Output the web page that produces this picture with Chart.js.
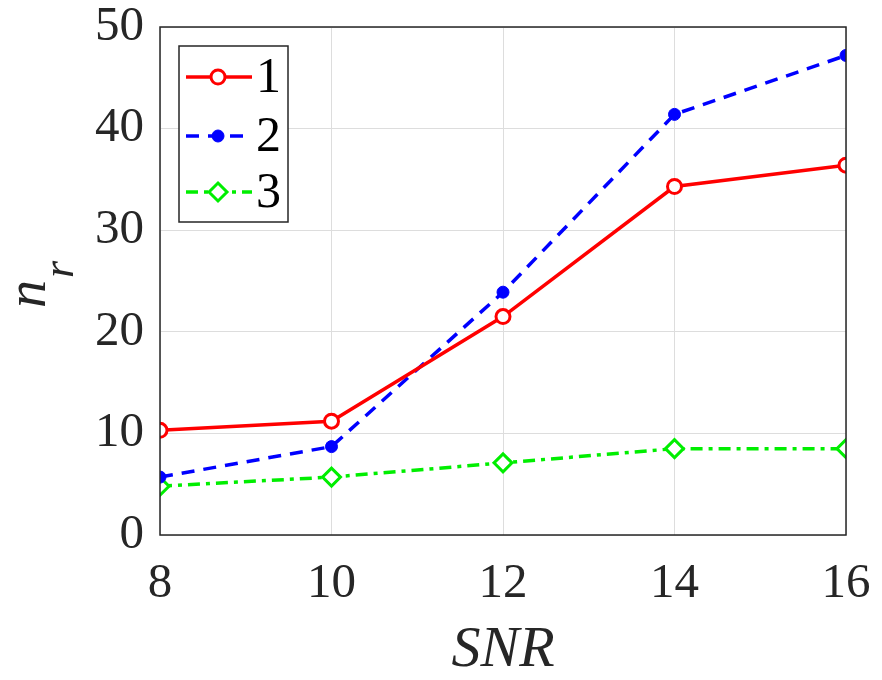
<!DOCTYPE html>
<html>
<head>
<meta charset="utf-8">
<script src="https://cdn.jsdelivr.net/npm/chart.js@4"></script>
<style>
    html, body { margin: 0; padding: 0; background: #fff; }
    #wrap { width: 882px; height: 680px; }
</style>
</head>
<body>
<div id="wrap"><canvas id="snrChart" width="882" height="680"></canvas></div>
<script>
// Data
const snrValues = [8, 10, 12, 14, 16];
const series1 = [10.3, 11.2, 21.5, 34.3, 36.4];
const series2 = [5.7, 8.7, 23.9, 41.4, 47.2];
const series3 = [4.8, 5.7, 7.1, 8.5, 8.5];
const seriesNames = ['1', '2', '3'];
const xTicks = [8, 10, 12, 14, 16];
const yTicks = [0, 10, 20, 30, 40, 50];

const serif = 'Liberation Serif';
const toPoints = arr => arr.map((v, i) => ({ x: snrValues[i], y: v }));

// box, legend and y title (with subscript) drawn on top
const decorPlugin = {
    id: 'decor',
    afterDraw(chart) {
        const ctx = chart.ctx;
        const a = chart.chartArea;
        ctx.save();

        // axes box
        ctx.strokeStyle = '#262626';
        ctx.lineWidth = 1.5;
        ctx.strokeRect(a.left, a.top, a.right - a.left, a.bottom - a.top);

        // y title n_r, rotated
        ctx.translate(45, 308);
        ctx.rotate(-Math.PI / 2);
        ctx.fillStyle = '#262626';
        ctx.textBaseline = 'alphabetic';
        ctx.textAlign = 'left';
        ctx.font = 'italic 56px ' + serif;
        ctx.fillText('n', 0, 0);
        ctx.font = 'italic 44px ' + serif;
        ctx.fillText('r', 30, 28);
        ctx.setTransform(1, 0, 0, 1, 0, 0);

        // legend
        const bx = 179, by = 46, bw = 109, bh = 176;
        ctx.fillStyle = '#fff';
        ctx.fillRect(bx, by, bw, bh);
        ctx.strokeStyle = '#262626';
        ctx.lineWidth = 1.5;
        ctx.strokeRect(bx, by, bw, bh);
        const rows = [77, 136, 192];
        chart.data.datasets.forEach((ds, i) => {
            const y = rows[i];
            ctx.strokeStyle = ds.borderColor;
            ctx.lineWidth = ds.borderWidth;
            ctx.setLineDash(ds.borderDash || []);
            ctx.beginPath();
            ctx.moveTo(186, y);
            ctx.lineTo(252, y);
            ctx.stroke();
            ctx.setLineDash([]);
            // marker
            const mx = 218;
            ctx.lineWidth = ds.pointBorderWidth;
            ctx.strokeStyle = ds.pointBorderColor;
            ctx.fillStyle = ds.pointBackgroundColor;
            const r = ds.pointRadius;
            ctx.beginPath();
            if (ds.pointStyle === 'rectRot') {
                ctx.moveTo(mx, y - r);
                ctx.lineTo(mx + r, y);
                ctx.lineTo(mx, y + r);
                ctx.lineTo(mx - r, y);
                ctx.closePath();
            } else {
                ctx.arc(mx, y, r, 0, Math.PI * 2);
            }
            ctx.fill();
            ctx.stroke();
            // label
            ctx.fillStyle = '#000';
            ctx.font = '50px ' + serif;
            ctx.textBaseline = 'middle';
            ctx.fillText(seriesNames[i], 256, y + 2);
        });
        ctx.restore();
    }
};

const ctx = document.getElementById('snrChart').getContext('2d');
new Chart(ctx, {
    type: 'line',
    data: {
        datasets: [
            {
                label: seriesNames[0],
                data: toPoints(series1),
                borderColor: '#ff0000',
                borderWidth: 3.5,
                pointStyle: 'circle',
                pointRadius: 7,
                pointBorderWidth: 3,
                pointBorderColor: '#ff0000',
                pointBackgroundColor: '#ffffff'
            },
            {
                label: seriesNames[1],
                data: toPoints(series2),
                borderColor: '#0000ff',
                borderWidth: 3.5,
                borderDash: [13, 9],
                pointStyle: 'circle',
                pointRadius: 6,
                pointBorderWidth: 1,
                pointBorderColor: '#0000ff',
                pointBackgroundColor: '#0000ff'
            },
            {
                label: seriesNames[2],
                data: toPoints(series3),
                borderColor: '#00ee00',
                borderWidth: 3.5,
                borderDash: [12, 6, 4, 6],
                pointStyle: 'rectRot',
                pointRadius: 9,
                pointBorderWidth: 3,
                pointBorderColor: '#00ee00',
                pointBackgroundColor: '#ffffff'
            }
        ]
    },
    options: {
        responsive: false,
        animation: false,
        layout: { padding: { left: 0, top: 27, right: 36, bottom: 0 } },
        plugins: {
            legend: { display: false },
            tooltip: { enabled: false }
        },
        scales: {
            x: {
                type: 'linear',
                min: 8,
                max: 16,
                afterBuildTicks: scale => { scale.ticks = xTicks.map(v => ({ value: v })); },
                afterFit: scale => {
                    scale.height = 145;
                    scale.paddingLeft = 0;
                    scale.paddingRight = 0;
                },
                grid: { color: '#dddddd', drawTicks: false },
                border: { display: false },
                ticks: {
                    padding: 20,
                    color: '#262626',
                    font: { family: serif, size: 49 }
                },
                title: {
                    display: true,
                    text: 'SNR',
                    color: '#262626',
                    padding: { top: 0, bottom: 0 },
                    font: { family: serif, size: 58, style: 'italic', lineHeight: 1 }
                }
            },
            y: {
                min: 0,
                max: 50,
                afterBuildTicks: scale => { scale.ticks = yTicks.map(v => ({ value: v })); },
                afterFit: scale => {
                    scale.width = 160;
                    scale.paddingTop = 0;
                    scale.paddingBottom = 0;
                },
                grid: { color: '#dddddd', drawTicks: false },
                border: { display: false },
                ticks: {
                    padding: 16,
                    color: '#262626',
                    font: { family: serif, size: 49 }
                }
            }
        }
    },
    plugins: [decorPlugin]
});
</script>
</body>
</html>
